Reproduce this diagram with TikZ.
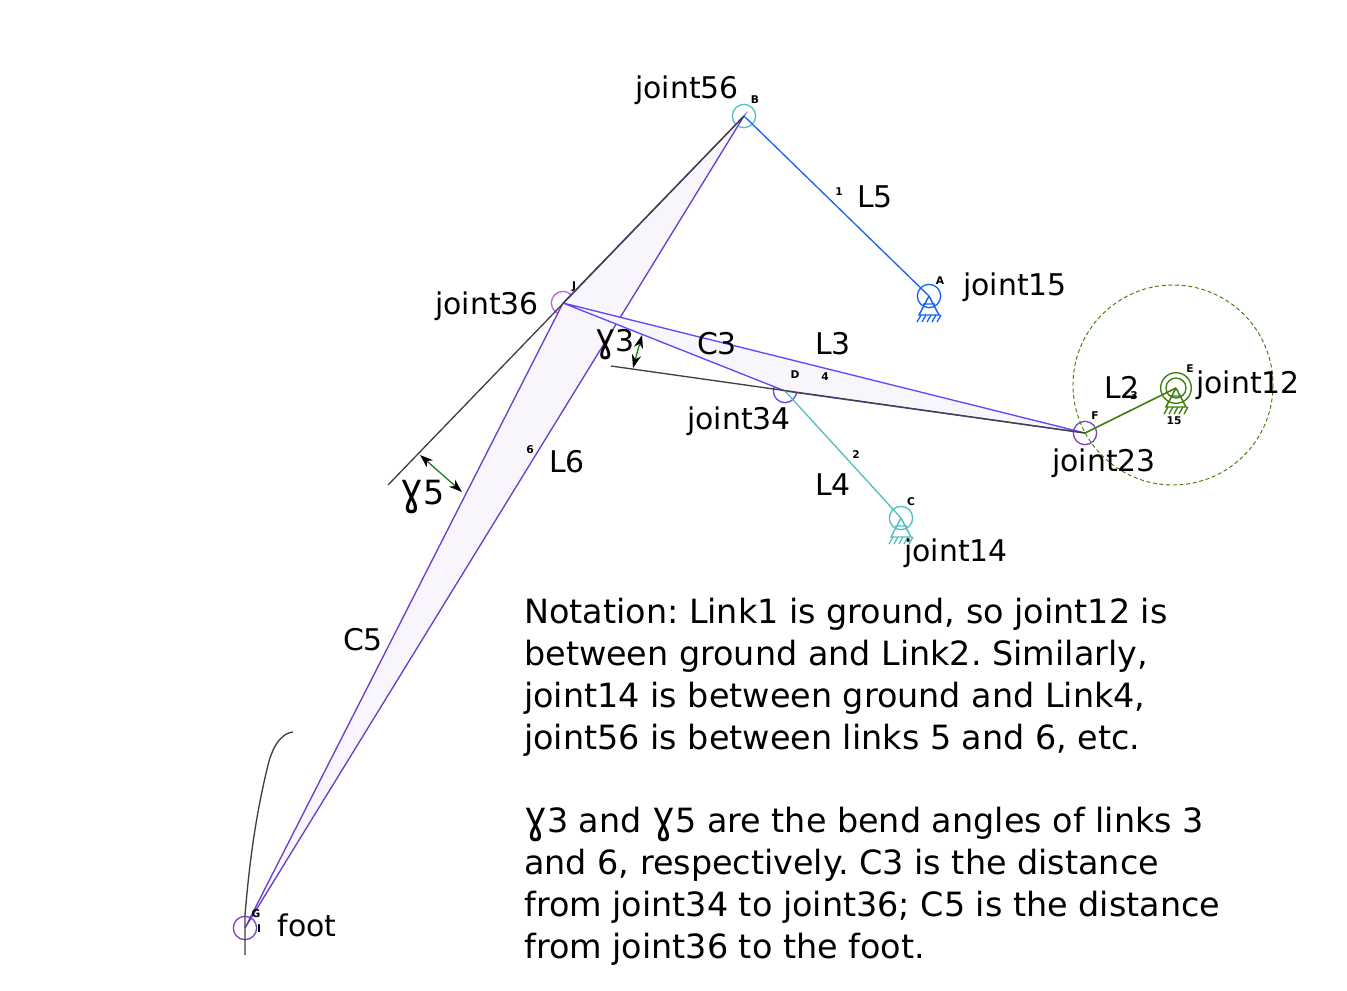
\documentclass[tikz,border=0pt]{standalone}
\usepackage{fontspec}
\usepackage{graphicx}
\setmainfont{DejaVu Sans}
\usetikzlibrary{arrows.meta}
\definecolor{linkpurple}{RGB}{106,62,200}
\definecolor{linkviolet}{RGB}{100,70,245}
\definecolor{lavender}{RGB}{248,245,252}
\definecolor{jointpurple}{RGB}{125,70,190}
\definecolor{jointpink}{RGB}{190,100,210}
\definecolor{azure}{RGB}{20,100,250}
\definecolor{teal2}{RGB}{85,190,195}
\definecolor{green2}{RGB}{62,125,10}
\definecolor{anglegreen}{RGB}{40,125,40}
\newcommand{\tallgamma}{\scalebox{1.15}[1.33]{ɣ}}
\frenchspacing
\tikzset{
  lbl/.style={font=\fontsize{22.4}{26}\selectfont,inner sep=0pt},
  bigl/.style={font=\fontsize{25}{30}\selectfont,inner sep=0pt},
  tinytag/.style={font=\fontsize{8}{9}\selectfont\rmfamily\bfseries,inner sep=0pt},
  joint/.style={circle,draw=#1,line width=1pt,minimum size=17.5,inner sep=0pt},
  guide/.style={draw=black!75,line width=1pt},
  bendarrow/.style={anglegreen,line width=1pt,{Stealth[black,length=10pt,width=7pt]}-{Stealth[black,length=10pt,width=7pt]}},
  pics/mount/.style={code={
    \draw[#1,line width=1.1pt] (0,0) -- (-10,19) (0,0) -- (10,19) (-6,8) -- (6,8) (-11,19) -- (11,19);
    \foreach \hx in {-8,-3,2,7,12}
      \draw[#1,line width=1pt] (\hx,19) -- ++(-4,7);
  }},
}
\begin{document}
\begin{tikzpicture}[x=0.75pt,y=0.75pt,yscale=-1,xscale=1]
\useasboundingbox (0,0) rectangle (1347,990);

% Joints
\node (jointB) [joint=teal2] at (744,116) {};
\node (jointA) [joint=azure] at (929,296) {};
\node (jointJ) [joint=jointpink] at (563,303) {};
\node (jointD) [joint=linkviolet] at (785,391) {};
\node (jointF) [joint=jointpurple] at (1085,433) {};
\node (jointE) [joint=green2,minimum size=23] at (1176,388) {};
\node (jointC) [joint=teal2] at (901,518) {};
\node (jointI) [joint=jointpurple] at (245,928) {};
\node (jointEin) [joint=green2,minimum size=15] at (1176,388) {};

% Coupler path circle
\coordinate (wheel) at (1173,385);
\draw [green2,densely dashed,line width=0.7pt] (wheel) circle (100);

% Links with fill
\filldraw [fill=lavender,draw=linkpurple,line width=1pt] (jointB.center) -- (jointJ.center) -- (jointI.center) -- cycle;
\filldraw [fill=lavender,draw=linkviolet,line width=1pt] (jointJ.center) -- (jointF.center) -- (jointD.center) -- cycle;

% Guide lines
\coordinate (g5a) at (388,485);
\coordinate (g3a) at (611,366);
\draw [guide] (g5a) -- (jointB.center);
\draw [guide] (g3a) -- (jointF.center);

% Foot path
\coordinate (pathtop) at (293,732);
\coordinate (pathend) at (245,955);
\draw [guide] (pathend) -- (245,915) .. controls (250,855) and (257,810) .. (268,765) .. controls (273,745) and (282,733) .. (pathtop);

% Plain links
\draw [azure,line width=1pt] (jointB.center) -- (jointA.center);
\draw [teal2,line width=1pt] (jointD.center) -- (jointC.center);
\draw [green2,line width=1.2pt] (jointF.center) -- (jointE.center);

% Ground mounts
\pic [transform shape] at (929,296) {mount=azure};
\pic [transform shape] at (901,518) {mount=teal2};
\pic [transform shape] at (1176,388) {mount=green2};

% Bend angle arrows
\coordinate (b5a) at (420,455);
\coordinate (b5b) at (462,492);
\coordinate (b3a) at (642,335);
\coordinate (b3b) at (633,368);
\draw [bendarrow] (b5a) -- (b5b);
\draw [bendarrow] (b3a) -- (b3b);

% Small labels
\node (tagB) [tinytag] at (755,100) {B};
\node (tagA) [tinytag] at (940,281) {A};
\node (tagJ) [tinytag] at (574,287) {J};
\node (tagD) [tinytag] at (795,375) {D};
\node (tagF) [tinytag] at (1095,416) {F};
\node (tagE) [tinytag] at (1190,369) {E};
\node (tagC) [tinytag] at (911,502) {C};
\node (tagG) [tinytag] at (256,914) {G};
\node (tagI) [tinytag] at (259,929) {I};
\node (tag1) [tinytag] at (839,192) {1};
\node (tag2) [tinytag] at (856,455) {2};
\node (tag3) [tinytag] at (1134,396) {3};
\node (tag4) [tinytag] at (825,377) {4};
\node (tag6) [tinytag] at (530,450) {6};
\node (tag15) [tinytag] at (1174,421) {15};

% Text Node
\node (t56) [lbl] at (687,90) {joint56};
\node (t15) [lbl] at (1015,287) {joint15};
\node (t36) [lbl] at (487,306) {joint36};
\node (t12) [lbl] at (1248,385) {joint12};
\node (t34) [lbl] at (739,421) {joint34};
\node (t23) [lbl] at (1104,463) {joint23};
\node (t14) [lbl] at (956,553) {joint14};
\node (tfoot) [lbl] at (307,925) {foot};
\node (tL5) [lbl] at (875,197) {L5};
\node (tL3) [lbl] at (833,344) {L3};
\node (tC3) [lbl] at (717,344) {C3};
\node (tL2) [lbl] at (1122,387) {L2};
\node (tL4) [lbl] at (833,485) {L4};
\node (tL6) [lbl] at (567,462) {L6};
\node (tC5) [lbl] at (363,640) {C5};
\node (tg3) [lbl] at (615,345) {\tallgamma 3};
\node (tg5) [bigl] at (423,497) {\tallgamma 5};
\node (notes) [lbl,anchor=north west,align=left,font=\fontsize{25.05}{31.4}\selectfont] at (524,598) {Notation: Link1 is ground, so joint12 is\\
between ground and Link2. Similarly,\\
joint14 is between ground and Link4,\\
joint56 is between links 5 and 6, etc.\\
\\
\tallgamma 3 and \tallgamma 5 are the bend angles of links 3\\
and 6, respectively. C3 is the distance\\
from joint34 to joint36; C5 is the distance\\
from joint36 to the foot.};

\end{tikzpicture}
\end{document}
